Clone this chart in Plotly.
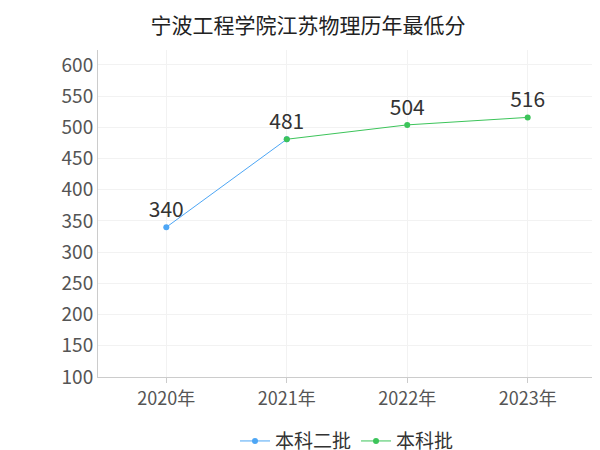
import plotly.graph_objects as go

years = ["2020年", "2021年", "2022年", "2023年"]
erpi_years = ["2020年", "2021年"]
erpi_scores = [340, 481]
benke_years = ["2021年", "2022年", "2023年"]
benke_scores = [481, 504, 516]
erpi_labels = ["340", ""]
benke_labels = ["481", "504", "516"]

font = "Noto Sans CJK SC"
fig = go.Figure()
fig.add_trace(go.Scatter(
    x=erpi_years, y=erpi_scores, name="本科二批", mode="lines+markers+text",
    line=dict(color="#4da6f5", width=1), marker=dict(size=6),
    text=erpi_labels, textposition="top center", textfont=dict(size=21, color="#333")
))
fig.add_trace(go.Scatter(
    x=benke_years, y=benke_scores, name="本科批", mode="lines+markers+text",
    line=dict(color="#3cc45a", width=1), marker=dict(size=6),
    text=benke_labels, textposition="top center", textfont=dict(size=21, color="#333")
))
fig.update_layout(
    width=600, height=450,
    font=dict(family=font, color="#555"),
    title=dict(text="宁波工程学院江苏物理历年最低分", x=0.5, y=0.96, xanchor="center",
               yanchor="middle", font=dict(size=21, color="#222")),
    plot_bgcolor="white", paper_bgcolor="white",
    margin=dict(l=90, r=12, t=42, b=81, autoexpand=False),
    legend=dict(orientation="h", x=0.5, xanchor="center", y=-0.196, yanchor="middle",
                font=dict(size=19, color="#333"), itemwidth=30),
    xaxis=dict(categoryorder="array", categoryarray=years, range=[-0.567, 3.567],
               showgrid=True, gridcolor="#f2f2f2", showline=True, linecolor="#ccc",
               ticks="outside", ticklen=5, tickcolor="#ccc", tickfont=dict(size=18)),
    yaxis=dict(range=[100, 624], dtick=50, showgrid=True, gridcolor="#f2f2f2",
               showline=True, linecolor="#ccc", zeroline=False, tickfont=dict(size=19)),
)
fig.write_html("out.html")
